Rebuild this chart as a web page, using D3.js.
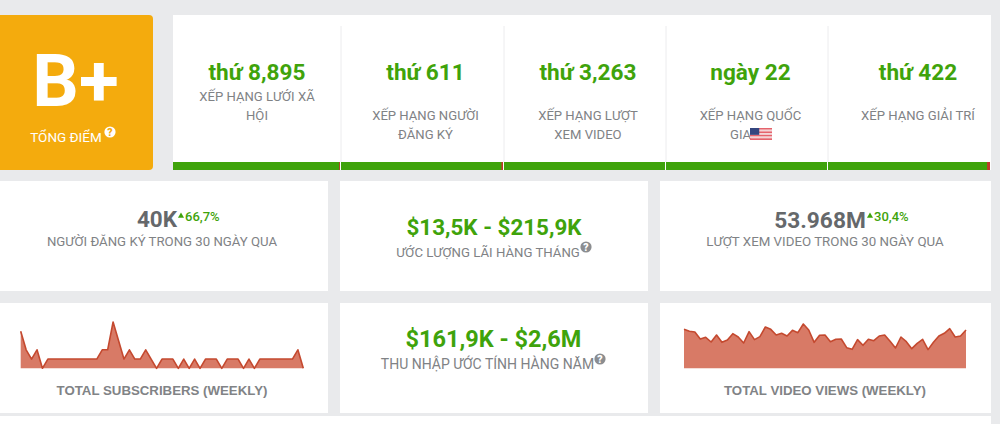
<!DOCTYPE html>
<html>
<head>
<meta charset="utf-8">
<script src="https://cdnjs.cloudflare.com/ajax/libs/d3/7.8.5/d3.min.js"></script>
<style>
  html, body { margin: 0; padding: 0; background: #e9eaec; overflow: hidden; }
  svg { display: block; font-family: Roboto, sans-serif; }
</style>
</head>
<body>
<svg id="chart" width="1000" height="424"></svg>
<script>
const grade = "B+";
const gradeLabel = "TỔNG ĐIỂM";

const rankValues = ["thứ 8,895", "thứ 611", "thứ 3,263", "ngày 22", "thứ 422"];
const rankLabels = [
    ["XẾP HẠNG LƯỚI XÃ", "HỘI"],
    ["XẾP HẠNG NGƯỜI", "ĐĂNG KÝ"],
    ["XẾP HẠNG LƯỢT", "XEM VIDEO"],
    ["XẾP HẠNG QUỐC", "GIA"],
    ["XẾP HẠNG GIẢI TRÍ"]
];
const rankPercent = [99.5, 99, 100, 100, 98.2];

const subsWeekly = [4, 2, 1, 2, 0, 1, 1, 1, 1, 1, 1, 1, 1, 1, 1, 2, 2, 5, 3, 1, 2, 1, 1, 2, 1, 0, 1, 1, 1, 0, 1, 0, 1, 0, 1, 1, 1, 0, 1, 1, 1, 0, 1, 0, 1, 1, 1, 1, 1, 1, 1, 2, 0];
const viewsWeekly = [16.38, 15.54, 15.26, 12.32, 13.02, 11.06, 14, 10.92, 11.9, 14.56, 13.16, 10.64, 15.4, 12.04, 13.3, 17.36, 16.38, 14, 14.7, 13.58, 15.96, 14.98, 18.62, 16.1, 10.92, 13.86, 14, 11.2, 12.18, 12.32, 8.68, 7.98, 12.04, 9.66, 12.18, 11.62, 13.58, 14, 11.34, 8.54, 13.16, 11.2, 8.26, 10.5, 12.18, 7.84, 10.92, 13.58, 14.7, 16.66, 13.16, 13.58, 16.1];

const GREEN = "#3fa30b";
const GREY = "#808285";
const DARK = "#65686b";
const svg = d3.select("#chart");

function card(x, y, w, h) {
    return svg.append("rect").attr("x", x).attr("y", y).attr("width", w).attr("height", h).attr("fill", "#fff");
}

function label(x, y, text, opts = {}) {
    return svg.append("text")
        .attr("x", x).attr("y", y)
        .attr("text-anchor", opts.anchor || "middle")
        .attr("font-size", opts.size || 14)
        .attr("font-weight", opts.weight || 400)
        .attr("font-family", opts.family || null)
        .attr("fill", opts.fill || GREY)
        .text(text);
}

function helpIcon(cx, cy, color, mark) {
    svg.append("circle").attr("cx", cx).attr("cy", cy).attr("r", 5.6).attr("fill", color);
    label(cx, cy + 3.7, "?", { size: 10.5, weight: 900, fill: mark });
}

function upTick(cx, cy) {
    svg.append("path")
        .attr("transform", `translate(${cx},${cy})`)
        .attr("d", d3.symbol(d3.symbolTriangle, 16)())
        .attr("fill", GREEN);
}

function drawScore() {
    svg.append("rect").attr("x", -8).attr("y", 15).attr("width", 161).attr("height", 155).attr("rx", 4).attr("fill", "#f4ab0d");
    label(75.5, 106, grade, { size: 73, weight: 700, fill: "#fff" });
    label(66, 142, gradeLabel, { size: 13.5, fill: "#fff" });
    helpIcon(110, 132, "#fff", "#f4ab0d");
}

function drawRanks() {
    const left = 173, right = 991, top = 15, bottom = 170;
    card(left, top, right - left, bottom - top);

    const cells = [173, 341, 504, 666, 828, 991];
    const centers = [257, 425.5, 588, 750.5, 918];
    const barScale = d3.scaleLinear().domain([0, 100]).range([0, 1]);

    rankValues.forEach((value, i) => {
        const x0 = cells[i], x1 = cells[i + 1];
        const cx = centers[i];
        if (i > 0) {
            svg.append("line").attr("x1", x0).attr("x2", x0).attr("y1", 26).attr("y2", 162).attr("stroke", "#ececee");
        }
        label(cx, 80, value, { size: 22.6, weight: 700, fill: GREEN });
        rankLabels[i].forEach((line, j) => {
            const y = (i === 0 ? 101 : 120) + j * 19;
            const isFlagLine = i === 3 && j === 1;
            label(isFlagLine ? 730 : cx, y, line, { size: 13.1, anchor: isFlagLine ? "start" : "middle" });
        });

        // progress bar at the foot of each cell
        const w = x1 - x0 - 1;
        svg.append("rect").attr("x", x0).attr("y", 162).attr("width", w).attr("height", 8).attr("fill", "#c0392b");
        svg.append("rect").attr("x", x0).attr("y", 162).attr("width", w * barScale(rankPercent[i])).attr("height", 8).attr("fill", GREEN);
    });
    drawFlag(750, 128, 22, 12);
}

function drawFlag(x, y, w, h) {
    const stripes = d3.range(7);
    const band = d3.scaleBand().domain(stripes).range([y, y + h]);
    svg.selectAll(".stripe").data(stripes).enter().append("rect")
        .attr("class", "stripe")
        .attr("x", x).attr("y", d => band(d))
        .attr("width", w).attr("height", band.bandwidth())
        .attr("fill", d => d % 2 ? "#f3d3d6" : "#e5636c");
    svg.append("rect").attr("x", x).attr("y", y).attr("width", w * 0.42).attr("height", h * 0.57).attr("fill", "#34467f");
}

function drawStats() {
    card(0, 181, 328, 110);
    card(340, 181, 308, 110);
    card(660, 181, 331, 110);
    card(0, 303, 328, 110);
    card(340, 303, 308, 110);
    card(660, 303, 331, 110);
    card(0, 416, 991, 8);

    label(157, 227, "40K", { size: 22.5, weight: 700, fill: DARK });
    upTick(181, 216);
    label(185, 221, "66,7%", { size: 13, weight: 500, fill: GREEN, anchor: "start" });
    label(162, 246, "NGƯỜI ĐĂNG KÝ TRONG 30 NGÀY QUA", { size: 13.2 });

    label(494, 235, "$13,5K - $215,9K", { size: 22.4, weight: 700, fill: GREEN });
    label(488, 257, "ƯỚC LƯỢNG LÃI HÀNG THÁNG", { size: 13.2 });
    helpIcon(586, 247, "#8b8d90", "#fff");

    label(820, 228, "53.968M", { size: 22.7, weight: 700, fill: DARK });
    upTick(870, 216);
    label(874, 221, "30,4%", { size: 13, weight: 500, fill: GREEN, anchor: "start" });
    label(825, 246, "LƯỢT XEM VIDEO TRONG 30 NGÀY QUA", { size: 13.3 });

    label(493.5, 347, "$161,9K - $2,6M", { size: 23.5, weight: 700, fill: GREEN });
    label(487.5, 369, "THU NHẬP ƯỚC TÍNH HÀNG NĂM", { size: 14 });
    helpIcon(600, 359, "#8b8d90", "#fff");

    const chartTitle = { size: 13.25, weight: 700, fill: "#818386", family: "'Liberation Sans', Arial, sans-serif" };
    label(162, 394.5, "TOTAL SUBSCRIBERS (WEEKLY)", chartTitle);
    label(825, 394.5, "TOTAL VIDEO VIEWS (WEEKLY)", chartTitle);
}

function sparkline(values, x0, x1, yTop, yBase) {
    const x = d3.scaleLinear().domain([0, values.length - 1]).range([x0, x1]);
    const y = d3.scaleLinear().domain([0, d3.max(values)]).range([yBase, yTop]);

    const area = d3.area().x((d, i) => x(i)).y0(yBase).y1(d => y(d));
    const line = d3.line().x((d, i) => x(i)).y(d => y(d));

    svg.append("path").datum(values).attr("d", area).attr("fill", "#d87a66");
    svg.append("path").datum(values).attr("d", line)
        .attr("fill", "none").attr("stroke", "#c4492f").attr("stroke-width", 1.6).attr("stroke-linejoin", "round");
}

drawScore();
drawRanks();
drawStats();
sparkline(subsWeekly, 20.7, 303.3, 322, 368.3);
sparkline(viewsWeekly, 684, 966, 324, 368.3);
</script>
</body>
</html>
